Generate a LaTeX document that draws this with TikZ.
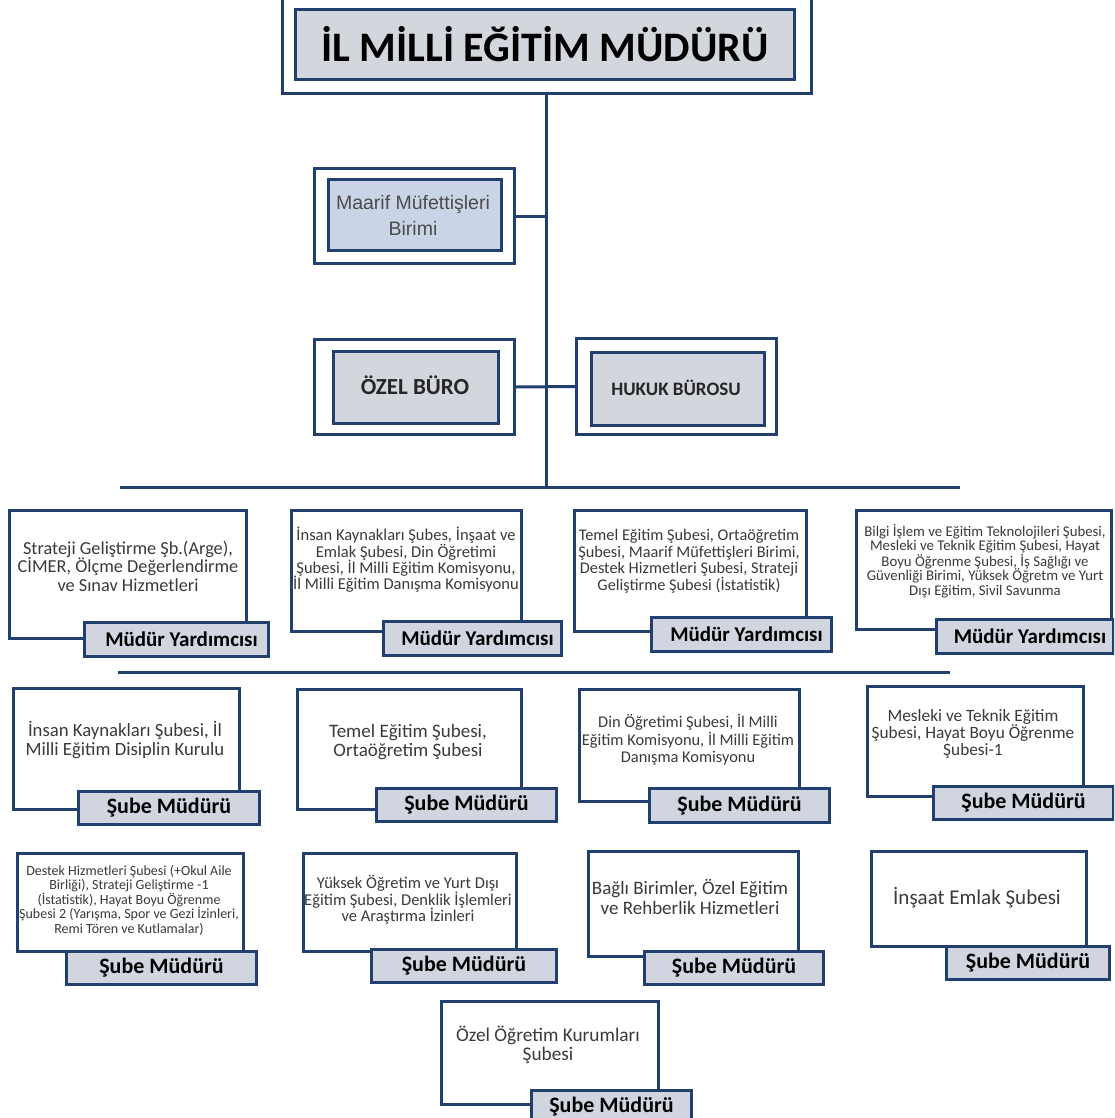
\documentclass[tikz,border=0pt]{standalone}
\usepackage{fontspec}
\setmainfont{Carlito}
\newfontfamily\arialf{Liberation Sans}
\definecolor{navy}{HTML}{22406F}
\definecolor{lblfill}{HTML}{D0D5DF}
\definecolor{ttlfill}{HTML}{D3D6DD}
\definecolor{bluefill}{HTML}{C9D5E6}
\definecolor{txtgray}{HTML}{3A3A3A}
\begin{document}
\begin{tikzpicture}[x=1pt,y=-1pt,
  frame/.style={draw=navy,line width=3pt,fill=white,anchor=north west,inner sep=0pt},
  inbox/.style={draw=navy,line width=3pt,anchor=north west,inner sep=0pt},
  unit/.style={draw=navy,line width=3pt,fill=white,anchor=north west,inner sep=0pt},
  lbl/.style={draw=navy,line width=3pt,fill=lblfill,anchor=north west,inner sep=0pt,font=\bfseries\fontsize{21}{24}\selectfont,text=black},
  sube/.style={lbl,font=\bfseries\fontsize{22}{25}\selectfont},
  txt/.style={align=center,inner sep=0pt,text=txtgray},
  conn/.style={draw=navy,line width=3pt}]
\useasboundingbox (0,0) rectangle (1114,1118);
\clip (0,0) rectangle (1114,1118);
\fill[white] (0,0) rectangle (1114,1118);

% connectors
\coordinate (h1l) at (120,487);
\coordinate (h1r) at (960,487);
\coordinate (h2l) at (118,672);
\coordinate (h2r) at (950,672);
\coordinate (spine) at (546,487);

% top
\node[frame,minimum width=529pt,minimum height=102pt] (topo) at (281,-10) {};
\node[inbox,fill=ttlfill,minimum width=499pt,minimum height=70pt] (topi) at (294,8) {};
\node[font=\bfseries\fontsize{42}{45}\selectfont,text=black,inner sep=0pt] (ttl) at (topi.center) {İL MİLLİ EĞİTİM MÜDÜRÜ};

\draw[conn] (topo.south -| spine) -- (spine);

% Maarif
\node[frame,minimum width=200pt,minimum height=95pt] (maao) at (313,167) {};
\node[inbox,fill=bluefill,minimum width=173pt,minimum height=71pt] (maai) at (327,178) {};
\node[txt,align=center,font=\arialf\fontsize{19.5}{26}\selectfont,text=black!70] (maat) at (413,215) {Maarif Müfettişleri\\Birimi};
\draw[conn] (maao.east) -- (maao.east -| spine);

% Ozel buro / Hukuk
\node[frame,minimum width=200pt,minimum height=95pt] (ozo) at (313,338) {};
\node[inbox,fill=ttlfill,minimum width=165pt,minimum height=72pt] (ozi) at (332,350) {};
\node[font=\bfseries\fontsize{23}{26}\selectfont,text=black!85,inner sep=0pt] (ozt) at (415,385) {ÖZEL BÜRO};
\node[frame,minimum width=200pt,minimum height=96pt] (huo) at (575,337) {};
\node[inbox,fill=ttlfill,minimum width=173pt,minimum height=73pt] (hui) at (590,351) {};
\node[font=\bfseries\fontsize{19}{22}\selectfont,text=black!85,inner sep=0pt] (hut) at (676,388) {HUKUK BÜROSU};
\draw[conn] (ozo.east) -- (huo.west);

\draw[conn] (h1l) -- (h1r);
\draw[conn] (h2l) -- (h2r);

% Row 1
\node[unit,minimum width=237pt,minimum height=128pt] (a1) at (8,509) {};
\node[txt,font=\fontsize{18.3}{18.5}\selectfont] (a1t) at (128,566) {Strateji Geliştirme Şb.(Arge),\\CİMER, Ölçme Değerlendirme\\ve Sınav Hizmetleri};
\node[lbl,minimum width=184pt,minimum height=34pt] (a1l) at (83,621) {\hspace*{10pt}Müdür Yardımcısı};

\node[unit,minimum width=230pt,minimum height=121pt] (a2) at (290,509) {};
\node[txt,font=\fontsize{16.5}{16.3}\selectfont] (a2t) at (406,560) {İnsan Kaynakları Şubes, İnşaat ve\\Emlak Şubesi, Din Öğretimi\\Şubesi, İl Milli Eğitim Komisyonu,\\İl Milli Eğitim Danışma Komisyonu};
\node[lbl,minimum width=178pt,minimum height=34pt] (a2l) at (382,620) {\hspace*{10pt}Müdür Yardımcısı};

\node[unit,minimum width=232pt,minimum height=121pt] (a3) at (573,509) {};
\node[txt,font=\fontsize{16.3}{16.5}\selectfont] (a3t) at (689,561) {Temel Eğitim Şubesi, Ortaöğretim\\Şubesi, Maarif Müfettişleri Birimi,\\Destek Hizmetleri Şubesi, Strateji\\Geliştirme Şubesi (İstatistik)};
\node[lbl,minimum width=180pt,minimum height=34pt] (a3l) at (650,616) {\hspace*{10pt}Müdür Yardımcısı};

\node[unit,minimum width=255pt,minimum height=119pt] (a4) at (855,509) {};
\node[txt,font=\fontsize{14.8}{14.5}\selectfont] (a4t) at (985,561) {Bilgi İşlem ve Eğitim Teknolojileri Şubesi,\\Mesleki ve Teknik Eğitim Şubesi, Hayat\\Boyu Öğrenme Şubesi, İş Sağlığı ve\\Güvenliği Birimi, Yüksek Öğretm ve Yurt\\Dışı Eğitim, Sivil Savunma};
\node[lbl,minimum width=177pt,minimum height=34pt] (a4l) at (935,618) {\hspace*{10pt}Müdür Yardımcısı};

% Row 2
\node[unit,minimum width=226pt,minimum height=121pt] (b1) at (12,687) {};
\node[txt,font=\fontsize{18.7}{19}\selectfont] (b1t) at (125,740) {İnsan Kaynakları Şubesi, İl\\Milli Eğitim Disiplin Kurulu};
\node[sube,minimum width=181pt,minimum height=33pt] (b1l) at (77,790) {Şube Müdürü};

\node[unit,minimum width=224pt,minimum height=120pt] (b2) at (296,688) {};
\node[txt,font=\fontsize{19}{19}\selectfont] (b2t) at (408,742) {Temel Eğitim Şubesi,\\Ortaöğretim Şubesi};
\node[sube,minimum width=180pt,minimum height=33pt] (b2l) at (375,787) {Şube Müdürü};

\node[unit,minimum width=220pt,minimum height=112pt] (b3) at (578,688) {};
\node[txt,font=\fontsize{16.4}{17.5}\selectfont] (b3t) at (688,740) {Din Öğretimi Şubesi, İl Milli\\Eğitim Komisyonu, İl Milli Eğitim\\Danışma Komisyonu};
\node[sube,minimum width=180pt,minimum height=34pt] (b3l) at (648,787) {Şube Müdürü};

\node[unit,minimum width=216pt,minimum height=110pt] (b4) at (866,685) {};
\node[txt,font=\fontsize{17.3}{17}\selectfont] (b4t) at (973,734) {Mesleki ve Teknik Eğitim\\Şubesi, Hayat Boyu Öğrenme\\Şubesi-1};
\node[sube,minimum width=180pt,minimum height=33pt] (b4l) at (932,785) {Şube Müdürü};

% Row 3
\node[unit,minimum width=226pt,minimum height=98pt] (c1) at (16,852) {};
\node[txt,font=\fontsize{14}{14.5}\selectfont] (c1t) at (129,900) {Destek Hizmetleri Şubesi (+Okul Aile\\Birliği), Strateji Geliştirme -1\\(İstatistik), Hayat Boyu Öğrenme\\Şubesi 2 (Yarışma, Spor ve Gezi İzinleri,\\Remi Tören ve Kutlamalar)};
\node[sube,minimum width=190pt,minimum height=33pt] (c1l) at (65,950) {Şube Müdürü};

\node[unit,minimum width=213pt,minimum height=98pt] (c2) at (302,852) {};
\node[txt,font=\fontsize{16.5}{16.5}\selectfont] (c2t) at (408,900) {Yüksek Öğretim ve Yurt Dışı\\Eğitim Şubesi, Denklik İşlemleri\\ve Araştırma İzinleri};
\node[sube,minimum width=185pt,minimum height=33pt] (c2l) at (370,948) {Şube Müdürü};

\node[unit,minimum width=210pt,minimum height=105pt] (c3) at (587,850) {};
\node[txt,font=\fontsize{19}{20}\selectfont] (c3t) at (690,897) {Bağlı Birimler, Özel Eğitim\\ve Rehberlik Hizmetleri};
\node[sube,minimum width=179pt,minimum height=33pt] (c3l) at (643,950) {Şube Müdürü};

\node[unit,minimum width=215pt,minimum height=95pt] (c4) at (870,850) {};
\node[txt,font=\fontsize{21}{24}\selectfont] (c4t) at (977,898) {İnşaat Emlak Şubesi};
\node[sube,minimum width=163pt,minimum height=33pt] (c4l) at (945,945) {Şube Müdürü};

% Row 4
\node[unit,minimum width=217pt,minimum height=103pt] (d1) at (440,1000) {};
\node[txt,font=\fontsize{19.3}{19}\selectfont] (d1t) at (548,1045) {Özel Öğretim Kurumları\\Şubesi};
\node[sube,minimum width=160pt,minimum height=33pt] (d1l) at (530,1089) {Şube Müdürü};
\end{tikzpicture}
\end{document}
